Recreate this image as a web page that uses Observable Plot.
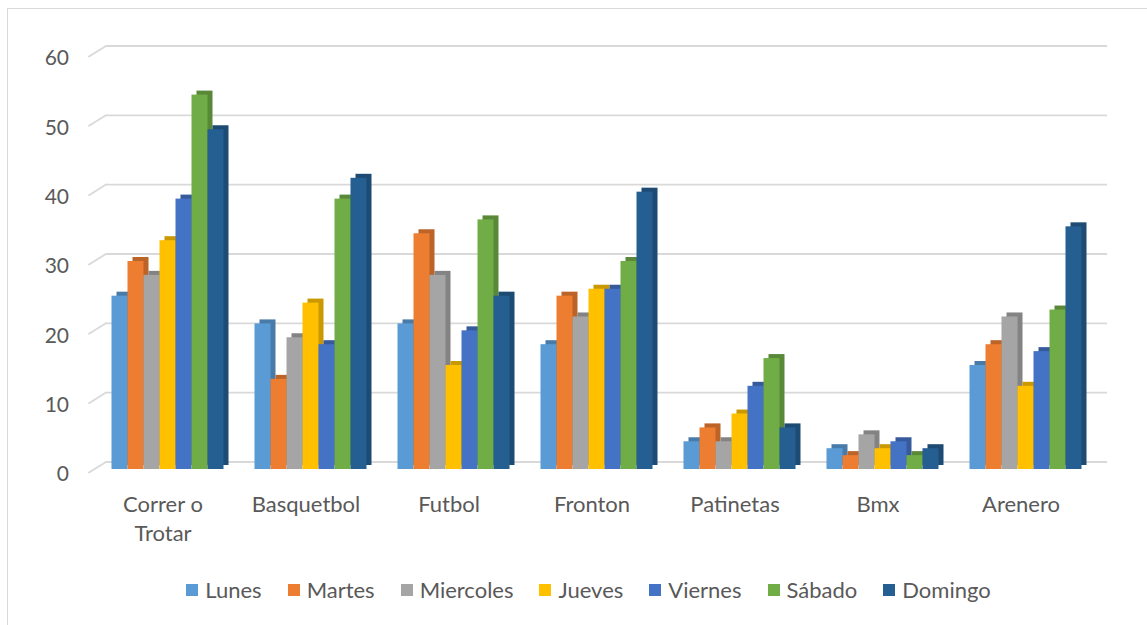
<!DOCTYPE html>
<html><head><meta charset="utf-8">
<script src="https://cdn.jsdelivr.net/npm/d3@7"></script>
<script src="https://cdn.jsdelivr.net/npm/@observablehq/plot@0.6"></script>
<style>
body{margin:0;width:1147px;height:625px;overflow:hidden;background:#fff;font-family:Lato,"Open Sans",sans-serif;position:relative;}
#frame{position:absolute;left:7px;top:8px;width:1200px;height:700px;border:1.5px solid #d9d9d9;box-sizing:border-box;}
#chart{position:absolute;left:0;top:0;}
#legend{position:absolute;top:576px;left:15px;width:1147px;display:flex;justify-content:center;align-items:center;font-size:22px;color:#595959;}
.item{display:flex;align-items:center;margin:0 13px;}
.sw{width:12px;height:12px;margin-right:7px;}
</style></head><body>
<div id="frame"></div>
<div id="chart"></div>
<div id="legend"></div>
<script>
const categories = ["Correr o Trotar","Basquetbol","Futbol","Fronton","Patinetas","Bmx","Arenero"];
const categoryLabels = ["Correr o\nTrotar","Basquetbol","Futbol","Fronton","Patinetas","Bmx","Arenero"];
const days = ["Lunes","Martes","Miercoles","Jueves","Viernes","Sábado","Domingo"];
const lunes     = [25,21,21,18, 4,3,15];
const martes    = [30,13,34,25, 6,2,18];
const miercoles = [28,19,28,22, 4,5,22];
const jueves    = [33,24,15,26, 8,3,12];
const viernes   = [39,18,20,26,12,4,17];
const sabado    = [54,39,36,30,16,2,23];
const domingo   = [49,42,25,40, 6,3,35];
const yTicks = [0,10,20,30,40,50,60];
const colors = ["#5B9BD5","#ED7D31","#A5A5A5","#FFC000","#4472C4","#70AD47","#255E91"];

const series = [lunes, martes, miercoles, jueves, viernes, sabado, domingo];
const colorMap = Object.fromEntries(days.map((d,j)=>[d, colors[j]]));
const shadeMap = Object.fromEntries(days.map((d,j)=>[d, d3.color(colors[j]).darker(0.65).formatHex()]));
const rows = categories.flatMap((c,i)=>days.map((d,j)=>({category:c, day:d, value:series[j][i]})));
const labelOf = Object.fromEntries(categories.map((c,i)=>[c, categoryLabels[i]]));

const chart = Plot.plot({
  width:1147, height:560,
  marginLeft:95.5, marginRight:50.5, marginTop:53, marginBottom:91,
  style:{background:"transparent", fontFamily:"Lato, 'Open Sans', sans-serif", fontSize:"22px", color:"#595959"},
  fx:{domain:categories, padding:0, axis:null},
  x:{domain:days, paddingInner:0, paddingOuter:0.706, axis:null},
  y:{domain:[0,60], axis:null},
  color:{type:"identity"},
  marks:[
    Plot.ruleY(yTicks, {dx:10, dy:-7.5, stroke:"#d9d9d9", strokeWidth:1.8}),
    Plot.vector(yTicks, {fx:()=>categories[0], y:d=>d, frameAnchor:"left", dx:-7.5, dy:3, length:20, rotate:58, anchor:"start",
      stroke:"#d9d9d9", strokeWidth:1.8,
      shape:{draw(ctx,l){ctx.moveTo(0,0); ctx.lineTo(0,-l);}}}),
    Plot.barY(rows, {fx:"category", x:"day", y:"value", fill:d=>shadeMap[d.day], dx:5, dy:-4}),
    Plot.barY(rows, {fx:"category", x:"day", y:"value", fill:d=>colorMap[d.day]}),
    Plot.text(yTicks, {fx:()=>categories[0], y:d=>d, text:d=>String(d), frameAnchor:"left", dx:-27.5, dy:5,
      textAnchor:"end", fill:"#595959", fontSize:21}),
    Plot.text(categories, {fx:d=>d, text:d=>labelOf[d], frameAnchor:"bottom", lineAnchor:"top", dy:22, dx:-5,
      lineHeight:1.32, fill:"#595959", fontSize:22})
  ]
});
document.getElementById("chart").appendChild(chart);

const legend = document.getElementById("legend");
days.forEach((d,j)=>{
  const it = document.createElement("div"); it.className="item";
  const sw = document.createElement("div"); sw.className="sw"; sw.style.background=colors[j];
  const tx = document.createElement("span"); tx.textContent=d;
  it.appendChild(sw); it.appendChild(tx); legend.appendChild(it);
});
</script>
</body></html>
